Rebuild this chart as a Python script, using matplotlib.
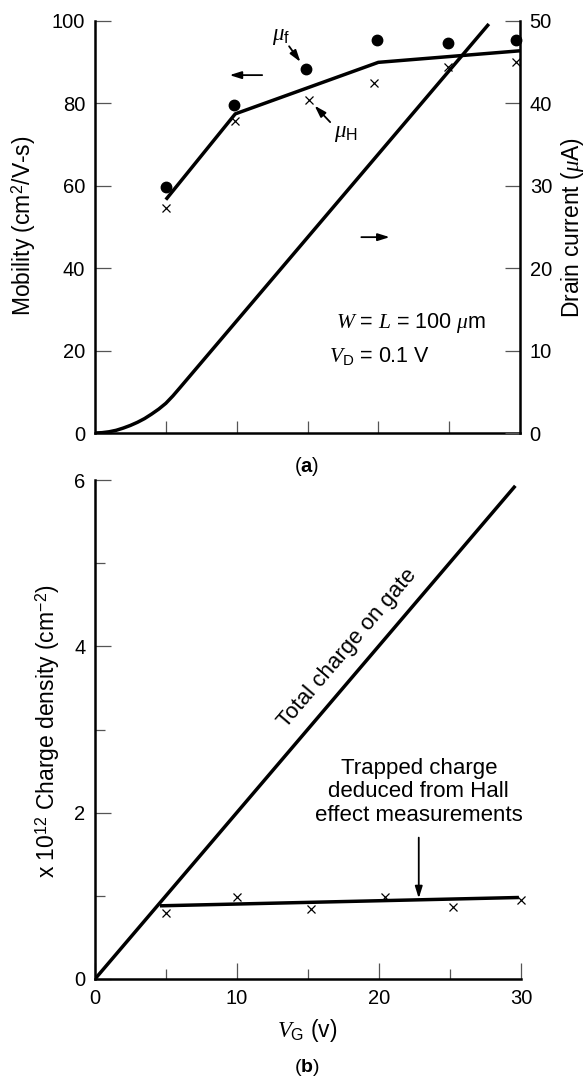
import numpy as np
import matplotlib
matplotlib.use("Agg")
import matplotlib.pyplot as plt

plt.rcParams['font.family'] = ['Liberation Sans', 'DejaVu Sans']
plt.rcParams['mathtext.fontset'] = 'custom'
plt.rcParams['mathtext.rm'] = 'Liberation Sans'
plt.rcParams['mathtext.it'] = 'Liberation Serif:italic'
plt.rcParams['mathtext.bf'] = 'Liberation Sans:bold'

# ---------------- data (a) ----------------
fit_vg = [5, 9.9, 20, 30]
fit_mu = [56.6, 77.4, 89.9, 92.7]
muf_vg = [5, 9.8, 14.9, 19.9, 24.9, 29.7]
muf_val = [59.6, 79.6, 88.3, 95.3, 94.5, 95.3]
muh_vg = [5, 9.9, 15.1, 19.7, 24.9, 29.7]
muh_val = [54.6, 75.6, 80.7, 84.9, 88.7, 90.1]
id_vg = [0, 0.5, 1, 1.5, 2, 2.5, 3, 3.5, 4, 4.5, 5, 5.5, 6, 27.8]
id_val = [0, 0.04, 0.15, 0.33, 0.6, 0.92, 1.3, 1.75, 2.3, 2.9, 3.6, 4.5, 5.5, 49.6]
mob_ticks = [0, 20, 40, 60, 80, 100]
cur_ticks = [0, 10, 20, 30, 40, 50]
a_xticks = [5, 10, 15, 20, 25]

# ---------------- data (b) ----------------
total_vg = [0, 29.6]
total_q = [0, 5.93]
trap_vg = [4.57, 29.85]
trap_q = [0.88, 0.98]
trapx_vg = [5.0, 10.0, 15.2, 20.4, 25.2, 30.0]
trapx_q = [0.79, 0.98, 0.84, 0.98, 0.87, 0.955]
b_xticks = [0, 10, 20, 30]
b_xminor = [5, 15, 25]
b_yticks = [0, 2, 4, 6]
b_yminor = [1, 3, 5]

W, H = 587, 1082
fig = plt.figure(figsize=(W / 100, H / 100), dpi=100)

def fx(px):
    return px / W

def fy(py):
    return 1 - py / H

SPW = 1.8
LW = 2.5
TICKC = '#555555'
TLS = 14.5
LBS = 16.5

# ---------- panel (a) ----------
ax1 = fig.add_axes([fx(95), fy(433), fx(520) - fx(95), fy(20.7) - fy(433)])
ax1.set_xlim(0, 30)
ax1.set_ylim(0, 100)
ax1r = ax1.twinx()
ax1r.set_ylim(0, 50)

for s in ['top', 'right']:
    ax1.spines[s].set_visible(False)
for s in ['top', 'left', 'bottom']:
    ax1r.spines[s].set_visible(False)
ax1.spines['left'].set_linewidth(SPW)
ax1.spines['bottom'].set_linewidth(SPW)
ax1r.spines['right'].set_linewidth(SPW)

ax1.set_xticks(a_xticks)
ax1.tick_params(axis='x', direction='in', length=8.6, width=0.9, color=TICKC,
                labelbottom=False)
ax1.set_yticks(mob_ticks)
ax1.tick_params(axis='y', direction='in', length=11.5, width=0.9, color=TICKC,
                labelsize=TLS, pad=7)
ax1r.set_yticks(cur_ticks)
ax1r.tick_params(axis='y', direction='in', length=11, width=0.9, color=TICKC,
                 labelsize=TLS, pad=7)

ax1.plot(fit_vg, fit_mu, color='k', lw=LW, solid_capstyle='butt', zorder=3)
ax1.plot(muf_vg, muf_val, 'o', color='k', ms=7.5, ls='none', zorder=4, clip_on=False)
ax1.plot(muh_vg, muh_val, 'x', color='k', ms=6, mew=0.9, ls='none', zorder=4, clip_on=False)
ax1r.plot(id_vg, id_val, color='k', lw=LW, solid_capstyle='butt', solid_joinstyle='round',
          zorder=3)

arr = dict(arrowstyle='-|>,head_length=0.7,head_width=0.22', color='k', lw=1.3,
           shrinkA=0, shrinkB=0)
ax1.annotate('', xy=(9.5, 86.8), xytext=(11.8, 86.8), arrowprops=arr)
ax1.annotate('', xy=(20.8, 47.5), xytext=(18.8, 47.5), arrowprops=arr)
ax1.annotate('', xy=(14.5, 90.0), xytext=(13.7, 93.8), arrowprops=arr)
ax1.annotate('', xy=(15.5, 79.4), xytext=(16.6, 75.4), arrowprops=arr)
ax1.text(13.1, 96.5, r'$\mu_{\mathrm{f}}$', fontsize=16.5, ha='center', va='center')
ax1.text(17.7, 72.8, r'$\mu_{\mathrm{H}}$', fontsize=16.5, ha='center', va='center')
ax1.text(17.0, 25.5, r'$W$ = $L$ = 100 $\mu$m', fontsize=15.5, ha='left', va='baseline')
ax1.text(16.5, 17.2, r'$V_{\mathrm{D}}$ = 0.1 V', fontsize=15.5, ha='left', va='baseline')

fig.text(fx(24), fy(226), r'Mobility (cm$^{2}$/V-s)', rotation=90, fontsize=LBS,
         ha='center', va='center')
fig.text(fx(573), fy(227), r'Drain current ($\mu$A)', rotation=90, fontsize=LBS,
         ha='center', va='center')
fig.text(fx(307), fy(466), r'($\mathbf{a}$)', fontsize=14.5, ha='center', va='center')

# ---------- panel (b) ----------
ax2 = fig.add_axes([fx(95), fy(979), fx(521) - fx(95), fy(480) - fy(979)])
ax2.set_xlim(0, 30)
ax2.set_ylim(0, 6)
for s in ['top', 'right']:
    ax2.spines[s].set_visible(False)
ax2.spines['left'].set_linewidth(SPW)
ax2.spines['bottom'].set_linewidth(SPW)

ax2.set_xticks(b_xticks)
ax2.set_xticks(b_xminor, minor=True)
ax2.set_yticks(b_yticks)
ax2.set_yticks(b_yminor, minor=True)
ax2.tick_params(which='major', direction='in', length=11.5, width=0.9, color=TICKC,
                labelsize=TLS, pad=7)
ax2.tick_params(which='minor', direction='in', length=7.5, width=0.9, color=TICKC)

ax2.plot(total_vg, total_q, color='k', lw=LW, solid_capstyle='butt', zorder=3)
ax2.plot(trap_vg, trap_q, color='k', lw=LW, solid_capstyle='butt', zorder=3)
ax2.plot(trapx_vg, trapx_q, 'x', color='k', ms=6, mew=0.9, ls='none', zorder=4,
         clip_on=False)

p0 = ax2.transData.transform((total_vg[0], total_q[0]))
p1 = ax2.transData.transform((total_vg[1], total_q[1]))
ang = np.degrees(np.arctan2(p1[1] - p0[1], p1[0] - p0[0]))
ax2.text(17.75, 3.98, 'Total charge on gate', rotation=ang, rotation_mode='anchor',
         fontsize=16, ha='center', va='center')
ax2.text(22.8, 2.25, 'Trapped charge\ndeduced from Hall\neffect measurements',
         fontsize=16, ha='center', va='center', linespacing=1.15)
ax2.annotate('', xy=(22.8, 0.97), xytext=(22.8, 1.70), arrowprops=arr)

fig.text(fx(48), fy(731), r'x 10$^{12}$ Charge density (cm$^{-2}$)', rotation=90,
         fontsize=LBS, ha='center', va='center')
fig.text(fx(307), fy(1031), r'$V_{\mathrm{G}}$ (v)', fontsize=LBS, ha='center', va='center')
fig.text(fx(307), fy(1068), r'($\mathbf{b}$)', fontsize=14, ha='center', va='center')

fig.savefig('out.png', dpi=100)
